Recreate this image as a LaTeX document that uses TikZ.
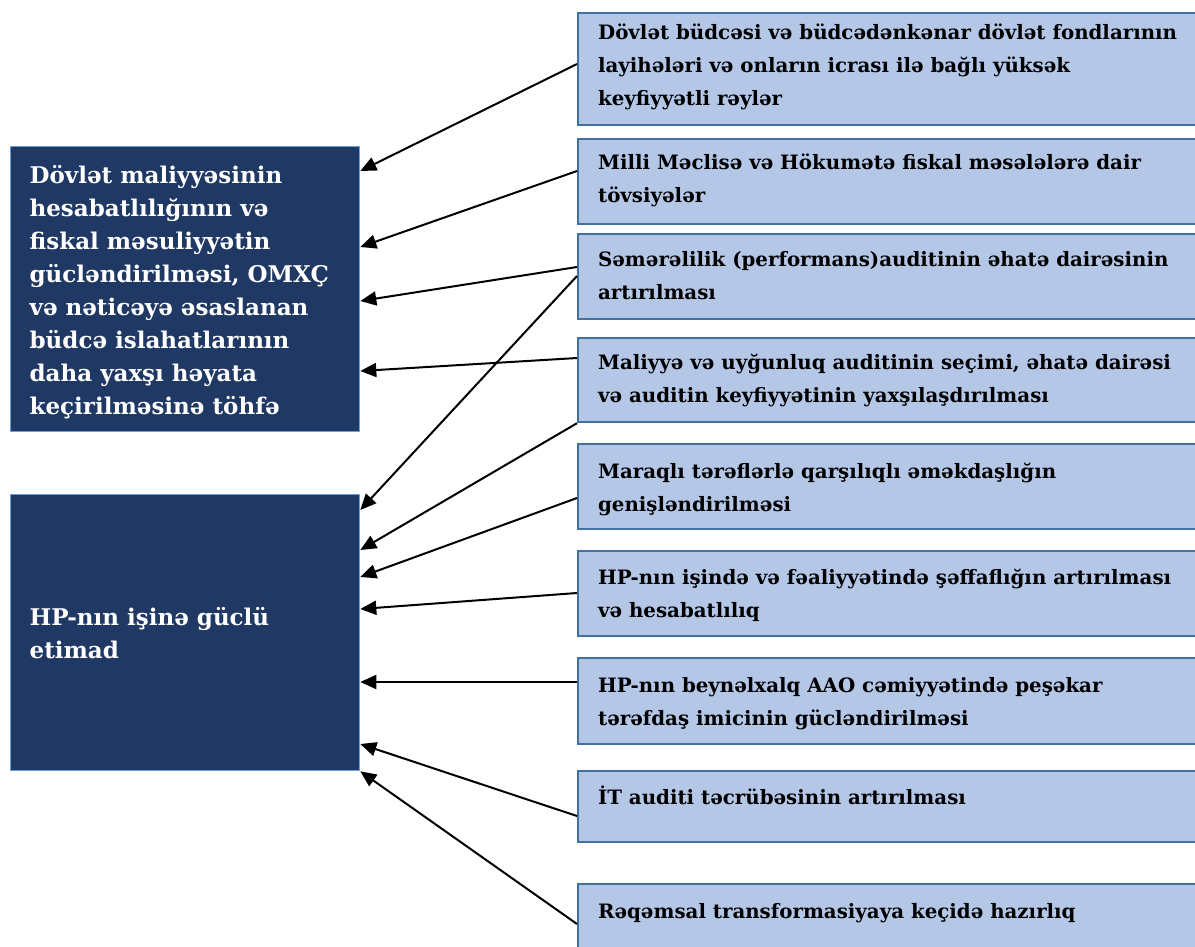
\documentclass[tikz,border=0pt]{standalone}
\usepackage{fontspec}
\newfontfamily\diafont{DejaVu Serif}
\usepackage{tikz}
\usetikzlibrary{arrows.meta}

\definecolor{rboxfill}{RGB}{180,199,231}
\definecolor{rboxline}{RGB}{65,113,156}
\definecolor{lboxfill}{RGB}{31,56,100}
\definecolor{lboxline}{RGB}{106,159,216}

% width, height, first baseline, text
\newcommand{\boxtext}[4]{\parbox[t][#2pt][t]{#1pt}{\raggedright\rule{0pt}{#3pt}#4}}

\begin{document}
\begin{tikzpicture}[x=1pt,y=-1pt,
		rbox/.style={draw=rboxline, fill=rboxfill, line width=2.2pt, anchor=north west,
			inner xsep=20pt, inner ysep=0pt, font=\diafont\bfseries\fontsize{19.8}{33}\selectfont},
		lbox/.style={draw=lboxline, fill=lboxfill, line width=1.3pt, anchor=north west, text=white,
			inner xsep=19pt, inner ysep=0pt, font=\diafont\bfseries\fontsize{23}{33}\selectfont},
		arr/.style={-{Triangle[length=16pt,width=14pt]}, line width=2pt}]
		
		\useasboundingbox (0,0) rectangle (1195,946);
		\clip (0,0) rectangle (1195,946);
		
		% left boxes
		\node[lbox] (l1) at (10,146) {\boxtext{311}{285}{37}{Dövlət maliyyəsinin\\ hesabatlılığının və\\ fiskal məsuliyyətin\\ gücləndirilməsi, OMXÇ\\ və nəticəyə əsaslanan\\ büdcə islahatlarının\\ daha yaxşı həyata\\ keçirilməsinə töhfə}};
		\node[lbox] (l2) at (10,494) {\boxtext{311}{276}{131}{HP-nın işinə güclü\\ etimad}};
		
		% right boxes
		\node[rbox] (r1) at (577,12) {\boxtext{640}{112}{26}{Dövlət büdcəsi və büdcədənkənar dövlət fondlarının\\ layihələri və onların icrası ilə bağlı yüksək\\ keyfiyyətli rəylər}};
		\node[rbox] (r2) at (577,138) {\boxtext{640}{85}{30}{Milli Məclisə və Hökumətə fiskal məsələlərə dair\\ tövsiyələr}};
		\node[rbox] (r3) at (577,233) {\boxtext{640}{85}{32}{Səmərəlilik (performans)auditinin əhatə dairəsinin\\ artırılması}};
		\node[rbox] (r4) at (577,337) {\boxtext{640}{84}{31}{Maliyyə və uyğunluq auditinin seçimi, əhatə dairəsi\\ və auditin keyfiyyətinin yaxşılaşdırılması}};
		\node[rbox] (r5) at (577,443) {\boxtext{640}{85}{34}{Maraqlı tərəflərlə qarşılıqlı əməkdaşlığın\\ genişləndirilməsi}};
		\node[rbox] (r6) at (577,550) {\boxtext{640}{85}{33}{HP-nın işində və fəaliyyətində şəffaflığın artırılması\\ və hesabatlılıq}};
		\node[rbox] (r7) at (577,657) {\boxtext{640}{86}{34}{HP-nın beynəlxalq AAO cəmiyyətində peşəkar\\ tərəfdaş imicinin gücləndirilməsi}};
		\node[rbox] (r8) at (577,770) {\boxtext{640}{71}{33}{İT auditi təcrübəsinin artırılması}};
		\node[rbox] (r9) at (577,883) {\boxtext{640}{71}{34}{Rəqəmsal transformasiyaya keçidə hazırlıq}};
		
		% arrows to the first box
		\draw[arr] ([yshift=-52pt]r1.north west) -- ([yshift=-25pt]l1.north east);
		\draw[arr] ([yshift=-33pt]r2.north west) -- ([yshift=-101pt]l1.north east);
		\draw[arr] ([yshift=-34pt]r3.north west) -- ([yshift=-155pt]l1.north east);
		\draw[arr] ([yshift=-21pt]r4.north west) -- ([yshift=-225pt]l1.north east);
		
		% arrows to the second box
		\draw[arr] ([yshift=-43pt]r3.north west) -- ([yshift=-16pt]l2.north east);
		\draw[arr] (r4.south west) -- ([yshift=-56pt]l2.north east);
		\draw[arr] ([yshift=-55pt]r5.north west) -- ([yshift=-83pt]l2.north east);
		\draw[arr] ([yshift=-43pt]r6.north west) -- ([yshift=-115pt]l2.north east);
		\draw[arr] ([yshift=-25pt]r7.north west) -- ([yshift=-188pt]l2.north east);
		\draw[arr] ([yshift=-46pt]r8.north west) -- ([yshift=-250pt]l2.north east);
		\draw[arr] ([yshift=-41pt]r9.north west) -- (l2.south east);
	\end{tikzpicture}
\end{document}
